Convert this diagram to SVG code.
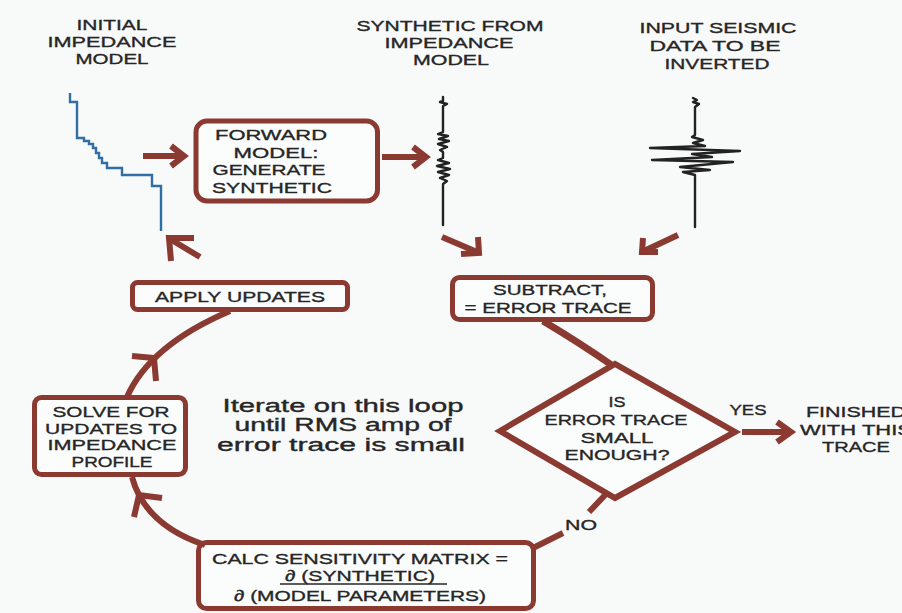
<svg xmlns="http://www.w3.org/2000/svg" width="902" height="613" viewBox="0 0 902 613">
<style>
.t{font-family:"Liberation Sans",Arial,sans-serif;font-size:15.5px;fill:#262626;stroke:#262626;stroke-width:0.35;text-anchor:middle}
.d{font-size:15px}
.it{font-size:18px}
.box{fill:#fbfcfc;stroke:#8b3a32;stroke-width:5}
.con{fill:none;stroke:#8b3a32;stroke-width:6;stroke-linejoin:miter;stroke-linecap:butt}
.wave{fill:none;stroke:#222;stroke-width:2.4;stroke-linejoin:round;stroke-linecap:round}
.imp{fill:none;stroke:#2f6fa3;stroke-width:2.4;stroke-linejoin:miter}
</style>
<rect x="0" y="0" width="902" height="613" fill="#f8f9f9"/>

<g id="initial-model">
<text class="t" x="112" y="30" textLength="71" lengthAdjust="spacingAndGlyphs">INITIAL</text>
<text class="t" x="112" y="47" textLength="129" lengthAdjust="spacingAndGlyphs">IMPEDANCE</text>
<text class="t" x="112" y="64" textLength="73" lengthAdjust="spacingAndGlyphs">MODEL</text>
<path class="imp" d="M70,93 V102 H77 V138 H84 V141 H89 V144 H93 V148 H96 V153 H99 V158 H102 V163 H107 V168 H122 V175 H152 V186 H161 V231"/>
</g>

<g id="synthetic">
<text class="t" x="450" y="31" textLength="187" lengthAdjust="spacingAndGlyphs">SYNTHETIC FROM</text>
<text class="t" x="449" y="48" textLength="129" lengthAdjust="spacingAndGlyphs">IMPEDANCE</text>
<text class="t" x="451" y="65" textLength="76" lengthAdjust="spacingAndGlyphs">MODEL</text>
<path class="wave" d="M443,97 L443,101 L440,102 L447,104 L443,106 L443,132 L438,134 L448,136 L439,139 L449,141 L438,144 L447,147 L440,150 L443,152 L443,158 L438,160 L449,163 L437,166 L450,169 L438,172 L449,175 L440,178 L447,181 L443,184 L443,225"/>
</g>

<g id="input-seismic">
<text class="t" x="718" y="33" textLength="157" lengthAdjust="spacingAndGlyphs">INPUT SEISMIC</text>
<text class="t" x="715" y="51" textLength="131" lengthAdjust="spacingAndGlyphs">DATA TO BE</text>
<text class="t" x="717" y="69" textLength="105" lengthAdjust="spacingAndGlyphs">INVERTED</text>
<path class="wave" d="M693,98 L697,100 L693,102 L699,104 L695,107 L695,135 L692,137 L703,140 L693,143 L705,146 L650,148 L740,151 L692,154 L712,157 L652,160 L733,162 L680,167 L710,170 L683,172 L695,175 L695,227"/>
</g>

<g id="forward-model">
<rect class="box" x="196" y="121" width="181.5" height="80" rx="11"/>
<text class="t" x="271" y="140" textLength="112" lengthAdjust="spacingAndGlyphs">FORWARD</text>
<text class="t" x="276" y="158" textLength="85" lengthAdjust="spacingAndGlyphs">MODEL:</text>
<text class="t" x="269" y="175" textLength="113" lengthAdjust="spacingAndGlyphs">GENERATE</text>
<text class="t" x="272" y="193" textLength="120" lengthAdjust="spacingAndGlyphs">SYNTHETIC</text>
</g>

<g id="apply-updates">
<rect class="box" x="132.5" y="282.5" width="215" height="27" rx="5"/>
<text class="t" x="240" y="302" textLength="170" lengthAdjust="spacingAndGlyphs">APPLY UPDATES</text>
</g>

<g id="subtract">
<rect class="box" x="452.5" y="277.5" width="200" height="42" rx="7"/>
<text class="t" x="550" y="295" textLength="114" lengthAdjust="spacingAndGlyphs">SUBTRACT,</text>
<text class="t" x="548" y="313" textLength="167" lengthAdjust="spacingAndGlyphs">= ERROR TRACE</text>
</g>

<g id="decision">
<polygon points="500,431 615,364 735,432 615,498" fill="#fbfcfc" stroke="#8b3a32" stroke-width="6" stroke-linejoin="miter"/>
<text class="t d" x="617" y="407" textLength="17" lengthAdjust="spacingAndGlyphs">IS</text>
<text class="t d" x="616" y="425" textLength="143" lengthAdjust="spacingAndGlyphs">ERROR TRACE</text>
<text class="t d" x="617" y="443" textLength="73" lengthAdjust="spacingAndGlyphs">SMALL</text>
<text class="t d" x="617" y="460" textLength="105" lengthAdjust="spacingAndGlyphs">ENOUGH?</text>
</g>

<g id="finished">
<text class="t" x="856" y="417" textLength="100" lengthAdjust="spacingAndGlyphs">FINISHED</text>
<text class="t" x="856" y="435" textLength="112" lengthAdjust="spacingAndGlyphs">WITH THIS</text>
<text class="t" x="856" y="452" textLength="68" lengthAdjust="spacingAndGlyphs">TRACE</text>
</g>

<g id="solve">
<rect class="box" x="34.5" y="397.5" width="151" height="77" rx="7"/>
<text class="t" x="111" y="417" textLength="117" lengthAdjust="spacingAndGlyphs">SOLVE FOR</text>
<text class="t" x="111" y="433.5" textLength="132" lengthAdjust="spacingAndGlyphs">UPDATES TO</text>
<text class="t" x="112" y="450" textLength="129" lengthAdjust="spacingAndGlyphs">IMPEDANCE</text>
<text class="t" x="112" y="467" textLength="81" lengthAdjust="spacingAndGlyphs">PROFILE</text>
</g>

<g id="calc-sensitivity">
<rect class="box" x="198.5" y="542.5" width="335" height="66" rx="8"/>
<text class="t" x="360" y="564" textLength="296" lengthAdjust="spacingAndGlyphs">CALC SENSITIVITY MATRIX =</text>
<text class="t" x="360" y="581" textLength="150" lengthAdjust="spacingAndGlyphs">∂ (SYNTHETIC)</text>
<line x1="280" y1="584" x2="447" y2="584" stroke="#262626" stroke-width="1.6"/>
<text class="t" x="360" y="601" textLength="252" lengthAdjust="spacingAndGlyphs">∂ (MODEL PARAMETERS)</text>
</g>

<g id="note">
<text class="t it" x="343" y="412" textLength="241" lengthAdjust="spacingAndGlyphs">Iterate on this loop</text>
<text class="t it" x="343" y="431" textLength="217" lengthAdjust="spacingAndGlyphs">until RMS amp of</text>
<text class="t it" x="341" y="451" textLength="248" lengthAdjust="spacingAndGlyphs">error trace is small</text>
</g>

<g id="connectors">
<path class="con" d="M143,156 H182"/>
<path class="con" d="M171,146 L184,156 L171,166"/>
<path class="con" d="M382,157 H424"/>
<path class="con" d="M413,147 L426,157 L413,167"/>
<path class="con" d="M200,257 L170,239"/>
<path class="con" d="M194,238 L169,238 L171,261"/>
<path class="con" d="M442,237 L477,252"/>
<path class="con" d="M478,237 L479,253 L461,254"/>
<path class="con" d="M678,235 L644,251"/>
<path class="con" d="M643,238 L642,252 L658,252"/>
<path class="con" d="M742,432 H789"/>
<path class="con" d="M777,422 L791,432 L777,442"/>
<path class="con" d="M230,311 Q150,345 127,397"/>
<path class="con" d="M132,356 L154,358 L156,381"/>
<path class="con" d="M132,477 Q145,525 205,545"/>
<path class="con" d="M134,517 L139,495 L162,498"/>
<path class="con" style="stroke-width:7" d="M543,321 Q580,343 613,366"/>
<path class="con" d="M606,494 L589,512"/>
<path class="con" d="M563,533 L531,549"/>
<text class="t" x="581" y="530" textLength="32" lengthAdjust="spacingAndGlyphs">NO</text>
<text class="t" x="748" y="415" textLength="37" lengthAdjust="spacingAndGlyphs">YES</text>
</g>
</svg>
